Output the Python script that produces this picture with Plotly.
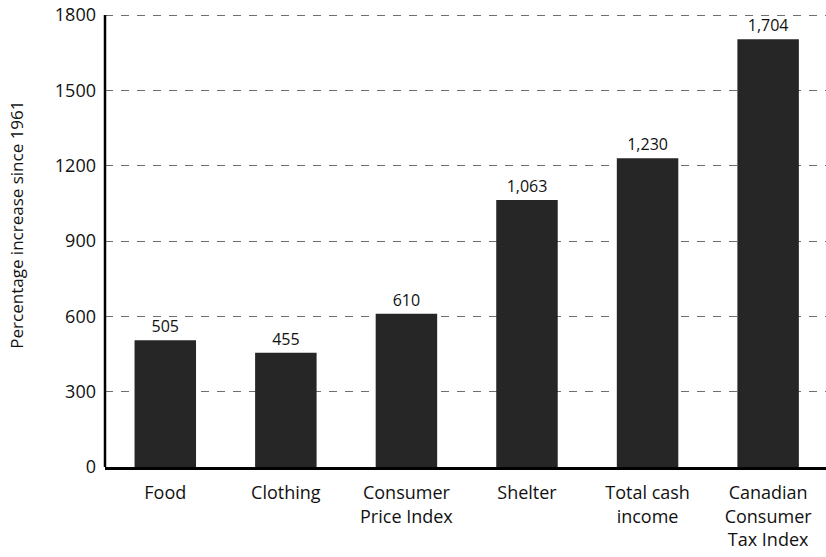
import plotly.graph_objects as go

categories = ["Food", "Clothing", "Consumer<br>Price Index", "Shelter",
              "Total cash<br>income", "Canadian<br>Consumer<br>Tax Index"]
increase_pct = [505, 455, 610, 1063, 1230, 1704]
value_labels = ["505", "455", "610", "1,063", "1,230", "1,704"]
y_ticks = [0, 300, 600, 900, 1200, 1500, 1800]
y_title = "Percentage increase since 1961"

font_family = "Open Sans, Noto Sans, sans-serif"

fig = go.Figure(
    go.Bar(
        x=categories,
        y=increase_pct,
        text=value_labels,
        textposition="outside",
        textfont=dict(size=16, color="#111111", family=font_family),
        cliponaxis=False,
        marker=dict(color="#262626", line=dict(width=0)),
        width=0.51,
    )
)

fig.update_layout(
    width=826,
    height=557,
    margin=dict(l=105, r=0, t=8, b=90),
    plot_bgcolor="white",
    paper_bgcolor="white",
    showlegend=False,
    font=dict(family=font_family, color="#111111"),
    bargap=0.49,
)

fig.update_xaxes(
    range=[-0.5, 5.48],
    showline=True,
    linecolor="black",
    linewidth=2.5,
    ticks="",
    tickfont=dict(size=18),
    ticklabelstandoff=8,
    showgrid=False,
)

fig.update_yaxes(
    range=[0, 1828],
    tickvals=y_ticks,
    ticktext=[str(v) for v in y_ticks],
    showline=False,
    ticks="",
    tickfont=dict(size=18),
    ticklabelstandoff=8,
    showgrid=True,
    gridcolor="#6e6e6e",
    gridwidth=1,
    griddash="8px,8px",
    zeroline=False,
)

# left axis line stops at the top tick
fig.add_shape(
    type="line",
    xref="paper", yref="y",
    x0=0, x1=0, y0=0, y1=y_ticks[-1],
    line=dict(color="black", width=2.5),
)

# vertical axis title, set a little above the plot's mid-height
fig.add_annotation(
    text=y_title,
    textangle=-90,
    xref="paper", yref="y",
    x=0, xshift=-88, xanchor="center",
    y=965,
    showarrow=False,
    font=dict(size=17),
)

fig.write_html("out.html")
